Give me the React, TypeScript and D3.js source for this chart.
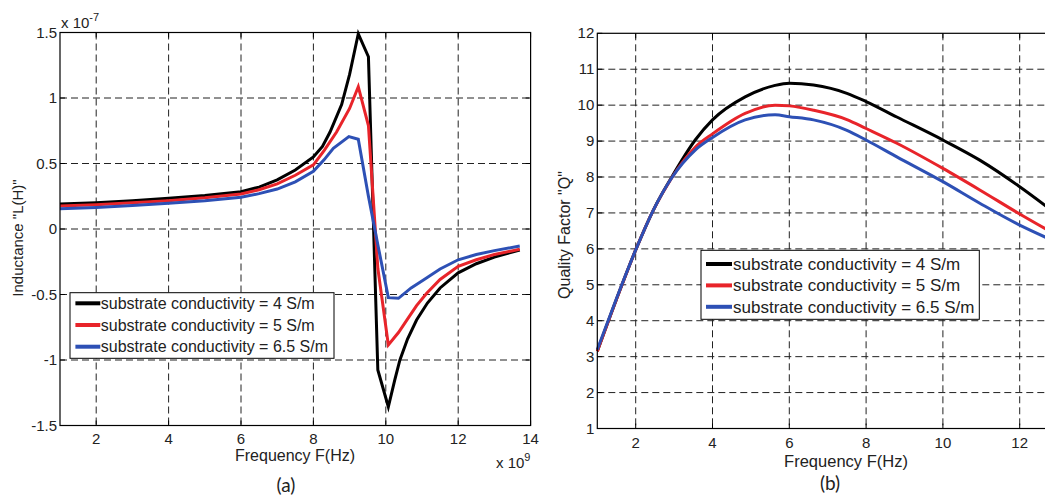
import React from "react";
import * as d3 from "d3";

// ---------- data ----------
// (a) Inductance, units of 1e-7 H, frequency in 1e9 Hz
const indFreq4 = [1, 2, 3, 4, 5, 6, 6.5, 7, 7.5, 8, 8.25, 8.46, 8.78, 9.0, 9.24, 9.52, 9.78, 10.07, 10.25, 10.39, 10.6, 10.85, 11.15, 11.5, 12, 12.5, 13, 13.7];
const ind4 = [0.19, 0.2, 0.215, 0.234, 0.255, 0.285, 0.32, 0.375, 0.45, 0.55, 0.63, 0.74, 0.95, 1.18, 1.49, 1.315, -1.076, -1.357, -1.15, -1.0, -0.84, -0.695, -0.565, -0.45, -0.335, -0.265, -0.215, -0.16];
const indFreq5 = [1, 2, 3, 4, 5, 6, 6.5, 7, 7.5, 8, 8.3, 8.64, 9.0, 9.24, 9.52, 9.78, 10.07, 10.35, 10.58, 10.85, 11.13, 11.5, 12, 12.5, 13, 13.7];
const ind5 = [0.175, 0.185, 0.2, 0.216, 0.238, 0.267, 0.3, 0.345, 0.41, 0.49, 0.6, 0.74, 0.92, 1.086, 0.79, -0.3, -0.885, -0.79, -0.695, -0.585, -0.49, -0.385, -0.285, -0.235, -0.195, -0.155];
const indFreq65 = [1, 2, 3, 4, 5, 6, 6.5, 7, 7.5, 8, 8.3, 8.55, 8.98, 9.24, 9.52, 9.78, 10.07, 10.35, 10.7, 11.04, 11.5, 12, 12.5, 13, 13.7];
const ind65 = [0.155, 0.165, 0.18, 0.196, 0.215, 0.242, 0.27, 0.305, 0.36, 0.44, 0.53, 0.616, 0.705, 0.685, 0.25, -0.12, -0.524, -0.529, -0.45, -0.39, -0.305, -0.235, -0.195, -0.165, -0.13];

// (b) Quality factor
const qFreq = [1.0, 1.5, 2.0, 2.46, 2.94, 3.55, 4.0, 4.85, 5.63, 6.0, 6.63, 7.5, 8.0, 8.8, 10.0, 10.96, 12.0, 12.7];
const q4 = [3.15, 4.6, 5.97, 7.08, 8.0, 9.03, 9.59, 10.23, 10.55, 10.61, 10.56, 10.33, 10.1, 9.67, 9.03, 8.47, 7.73, 7.18];
const q5 = [3.15, 4.6, 5.97, 7.08, 7.98, 8.83, 9.2, 9.77, 10.0, 9.98, 9.86, 9.6, 9.35, 8.94, 8.24, 7.64, 6.97, 6.54];
const q65 = [3.2, 4.62, 5.97, 7.08, 7.98, 8.75, 9.1, 9.59, 9.73, 9.68, 9.59, 9.3, 9.03, 8.56, 7.87, 7.27, 6.66, 6.31];

const xTicksA = [2, 4, 6, 8, 10, 12, 14];
const yTicksA = [-1.5, -1, -0.5, 0, 0.5, 1, 1.5];
const xTicksB = [2, 4, 6, 8, 10, 12, 14];
const yTicksB = [1, 2, 3, 4, 5, 6, 7, 8, 9, 10, 11, 12];

const legendLabels = [
  "substrate conductivity = 4 S/m",
  "substrate conductivity = 5 S/m",
  "substrate conductivity = 6.5 S/m",
];
const colors = ["#000000", "#e8242a", "#2d50b5"];

const FONT = "'Liberation Sans', Arial, sans-serif";

export default function App() {
  const W = 1045, H = 497;

  // panel (a)
  const xa = d3.scaleLinear().domain([1, 14]).range([60, 530.6]);
  const ya = d3.scaleLinear().domain([-1.5, 1.5]).range([425.5, 32.5]);
  // panel (b)
  const xb = d3.scaleLinear().domain([1, 14]).range([597.3, 597.3 + 13 * 38.4]);
  const yb = d3.scaleLinear().domain([1, 12]).range([428.5, 33.3]);

  const lineA = d3.line<[number, number]>().x(d => xa(d[0])).y(d => ya(d[1])).curve(d3.curveLinear);
  const lineB = d3.line<[number, number]>().x(d => xb(d[0])).y(d => yb(d[1])).curve(d3.curveMonotoneX);

  const zip = (xs: number[], ys: number[]) => xs.map((x, i) => [x, ys[i]] as [number, number]);
  const seriesA = [zip(indFreq4, ind4), zip(indFreq5, ind5), zip(indFreq65, ind65)];
  const seriesB = [zip(qFreq, q4), zip(qFreq, q5), zip(qFreq, q65)];

  const dash = "7,4";
  const gridColor = "#222";

  const axL = xa(1), axR = xa(14), ayT = ya(1.5), ayB = ya(-1.5);
  const bxL = xb(1), bxR = xb(14), byT = yb(12), byB = yb(1);

  return (
    <svg width={W} height={H} style={{ position: "absolute", left: 0, top: 0, background: "#fff" }} fontFamily={FONT}>
      <rect x={0} y={0} width={W} height={H} fill="#fff" />
      {/* ---------- panel (a) ---------- */}
      <g>
        {xTicksA.filter(t => t > 1 && t < 14).map(t => (
          <line key={"gxa" + t} x1={xa(t)} x2={xa(t)} y1={ayT} y2={ayB} stroke={gridColor} strokeWidth={1} strokeDasharray={dash} />
        ))}
        {yTicksA.filter(t => t > -1.5 && t < 1.5).map(t => (
          <line key={"gya" + t} x1={axL} x2={axR} y1={ya(t)} y2={ya(t)} stroke={gridColor} strokeWidth={1} strokeDasharray={dash} />
        ))}
        {xTicksA.map(t => (
          <g key={"txa" + t}>
            <line x1={xa(t)} x2={xa(t)} y1={ayB} y2={ayB - 5} stroke="#000" />
            <line x1={xa(t)} x2={xa(t)} y1={ayT} y2={ayT + 5} stroke="#000" />
            <text x={xa(t)} y={ayB + 18} fontSize={15} textAnchor="middle" fill="#222">{t}</text>
          </g>
        ))}
        {yTicksA.map(t => (
          <g key={"tya" + t}>
            <line x1={axL} x2={axL + 5} y1={ya(t)} y2={ya(t)} stroke="#000" />
            <line x1={axR} x2={axR - 5} y1={ya(t)} y2={ya(t)} stroke="#000" />
            <text x={axL - 3} y={ya(t) + 5} fontSize={15} textAnchor="end" fill="#222">{t}</text>
          </g>
        ))}
        {seriesA.map((s, i) => (
          <path key={"la" + i} d={lineA(s) || ""} fill="none" stroke={colors[i]} strokeWidth={3} strokeLinejoin="miter" />
        ))}
        <rect x={axL} y={ayT} width={axR - axL} height={ayB - ayT} fill="none" stroke="#000" strokeWidth={1.2} />
        <text x={61} y={28} fontSize={15} fill="#222">x 10<tspan dy={-7} fontSize={11}>-7</tspan></text>
        <text x={496} y={468} fontSize={15} fill="#222">x 10<tspan dy={-7} fontSize={11}>9</tspan></text>
        <text x={295} y={461} fontSize={16} textAnchor="middle" fill="#222">Frequency F(Hz)</text>
        <text transform={`translate(23,238) rotate(-90)`} fontSize={15} textAnchor="middle" fill="#222">Inductance "L(H)"</text>
        <text x={286} y={492} fontSize={19} textAnchor="middle" fill="#222" fontFamily="Lato, 'Open Sans', sans-serif">(a)</text>
        {/* legend */}
        <rect x={70} y={292.7} width={264} height={65.6} fill="#fff" stroke="#000" strokeWidth={1} />
        {legendLabels.map((lab, i) => {
          const yy = 303.3 + i * 21.7;
          return (
            <g key={"lga" + i}>
              <line x1={75.4} x2={100.3} y1={yy} y2={yy} stroke={colors[i]} strokeWidth={4} />
              <text x={100.8} y={yy + 5.5} fontSize={16} fill="#222">{lab}</text>
            </g>
          );
        })}
      </g>

      {/* ---------- panel (b) ---------- */}
      <g>
        {xTicksB.filter(t => t > 1).map(t => (
          <line key={"gxb" + t} x1={xb(t)} x2={xb(t)} y1={byT} y2={byB} stroke={gridColor} strokeWidth={1} strokeDasharray={dash} />
        ))}
        {yTicksB.filter(t => t > 1 && t < 12).map(t => (
          <line key={"gyb" + t} x1={bxL} x2={bxR} y1={yb(t)} y2={yb(t)} stroke={gridColor} strokeWidth={1} strokeDasharray={dash} />
        ))}
        {xTicksB.map(t => (
          <g key={"txb" + t}>
            <line x1={xb(t)} x2={xb(t)} y1={byB} y2={byB - 5} stroke="#000" />
            <line x1={xb(t)} x2={xb(t)} y1={byT} y2={byT + 5} stroke="#000" />
            {xb(t) + 10 < W && (
              <text x={xb(t)} y={byB + 19} fontSize={15} textAnchor="middle" fill="#222">{t}</text>
            )}
          </g>
        ))}
        {yTicksB.map(t => (
          <g key={"tyb" + t}>
            <line x1={bxL} x2={bxL + 5} y1={yb(t)} y2={yb(t)} stroke="#000" />
            <text x={bxL - 3} y={yb(t) + 5} fontSize={15} textAnchor="end" fill="#222">{t}</text>
          </g>
        ))}
        {seriesB.map((s, i) => (
          <path key={"lb" + i} d={lineB(s) || ""} fill="none" stroke={colors[i]} strokeWidth={3} />
        ))}
        <rect x={bxL} y={byT} width={bxR - bxL} height={byB - byT} fill="none" stroke="#000" strokeWidth={1.2} />
        <text x={846} y={467} fontSize={16.5} textAnchor="middle" fill="#222">Frequency F(Hz)</text>
        <text transform={`translate(570,235) rotate(-90)`} fontSize={16} textAnchor="middle" fill="#222">Quality Factor "Q"</text>
        <text x={830} y={490} fontSize={19} textAnchor="middle" fill="#222" fontFamily="Lato, 'Open Sans', sans-serif">(b)</text>
        {/* legend */}
        <rect x={701} y={250.3} width={278.3} height={69} fill="#fff" stroke="#000" strokeWidth={1} />
        {legendLabels.map((lab, i) => {
          const yy = 264 + i * 21.4;
          return (
            <g key={"lgb" + i}>
              <line x1={706} x2={732} y1={yy} y2={yy} stroke={colors[i]} strokeWidth={4} />
              <text x={733} y={yy + 6} fontSize={17} fill="#222">{lab}</text>
            </g>
          );
        })}
      </g>
    </svg>
  );
}
